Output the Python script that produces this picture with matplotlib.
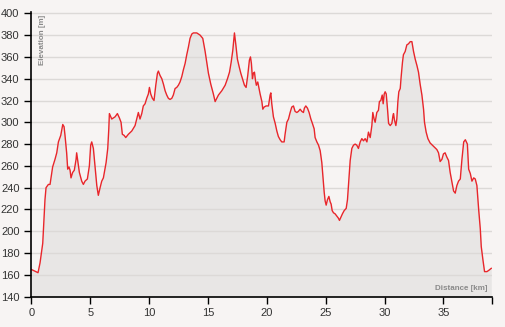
import numpy as np
import matplotlib.pyplot as plt

# elevation profile
dist = [0.0, 0.57, 0.74, 0.97, 1.16, 1.25, 1.45, 1.59, 1.67, 1.81, 2.01, 2.16, 2.30, 2.50, 2.67, 2.78, 2.86,
        3.00, 3.09, 3.20, 3.29, 3.37, 3.51, 3.65, 3.80, 3.85, 3.94, 4.08, 4.28, 4.42, 4.56, 4.76, 4.93,
        5.04, 5.13, 5.27, 5.41, 5.56, 5.69, 5.84, 5.98, 6.12, 6.35, 6.49, 6.58, 6.63, 6.83, 7.11, 7.31,
        7.48, 7.62, 7.73, 7.88, 8.02, 8.24, 8.53, 8.81, 8.95, 9.09, 9.23, 9.38, 9.51, 9.66, 9.80, 9.94,
        10.03, 10.14, 10.28, 10.42, 10.57, 10.71, 10.79, 10.93, 11.08, 11.22, 11.36, 11.50, 11.64, 11.78,
        11.93, 12.06, 12.21, 12.35, 12.49, 12.63, 12.78, 12.91, 13.06, 13.20, 13.34, 13.48, 13.63, 13.76,
        14.05, 14.33, 14.56, 14.76, 14.90, 15.04, 15.24, 15.46, 15.61, 15.75, 15.89, 16.18, 16.46, 16.66,
        16.83, 16.97, 17.11, 17.25, 17.37, 17.50, 17.65, 17.79, 17.96, 18.10, 18.24, 18.38, 18.52, 18.61,
        18.69, 18.78, 18.86, 18.95, 19.03, 19.11, 19.23, 19.32, 19.43, 19.58, 19.66, 19.77, 19.94, 20.14,
        20.28, 20.34, 20.42, 20.56, 20.71, 20.85, 20.98, 21.13, 21.27, 21.47, 21.55, 21.70, 21.84, 21.98,
        22.12, 22.26, 22.40, 22.55, 22.68, 22.83, 22.97, 23.11, 23.19, 23.31, 23.45, 23.59, 23.74, 23.87,
        24.02, 24.10, 24.25, 24.39, 24.53, 24.67, 24.76, 24.87, 24.95, 25.04, 25.15, 25.27, 25.38, 25.46,
        25.55, 25.66, 25.80, 25.94, 26.08, 26.17, 26.29, 26.42, 26.57, 26.74, 26.85, 26.97, 27.08, 27.22,
        27.36, 27.50, 27.64, 27.78, 27.93, 28.07, 28.21, 28.35, 28.50, 28.63, 28.78, 28.92, 29.00, 29.11,
        29.20, 29.34, 29.48, 29.56, 29.68, 29.80, 29.88, 29.97, 30.05, 30.14, 30.25, 30.34, 30.48, 30.62,
        30.71, 30.76, 30.84, 30.96, 31.04, 31.13, 31.21, 31.33, 31.41, 31.52, 31.60, 31.75, 31.89, 32.03,
        32.18, 32.32, 32.46, 32.60, 32.75, 32.88, 33.02, 33.17, 33.31, 33.39, 33.53, 33.68, 33.87, 34.16,
        34.44, 34.58, 34.72, 34.87, 35.00, 35.14, 35.29, 35.43, 35.57, 35.72, 35.86, 36.00, 36.14, 36.28,
        36.43, 36.57, 36.72, 36.86, 36.94, 37.03, 37.14, 37.28, 37.42, 37.57, 37.70, 37.84, 37.99, 38.13,
        38.21, 38.35, 38.49, 38.69, 38.83, 39.06]
elev = [165, 162, 171, 189, 229, 240, 243, 243, 249, 259, 266, 272, 282, 288, 298, 296, 288,
        272, 257, 259, 256, 249, 254, 256, 266, 272, 265, 254, 246, 243, 246, 248, 260,
        279, 282, 276, 260, 242, 233, 240, 246, 249, 263, 276, 294, 308, 303, 305, 308,
        304, 300, 289, 288, 286, 289, 292, 297, 303, 309, 303, 308, 315, 317, 322, 326,
        332, 326, 322, 320, 334, 345, 347, 343, 340, 335, 329, 325, 322, 321,
        322, 325, 331, 332, 334, 337, 342, 348, 354, 362, 369, 377, 381, 382,
        382, 380, 377, 365, 355, 345, 335, 326, 319, 322, 325, 329, 334, 340,
        346, 355, 366, 382, 371, 358, 351, 345, 339, 334, 332, 343, 357, 360,
        354, 340, 345, 346, 339, 334, 337, 332, 326, 319, 312, 314, 315, 315,
        325, 327, 317, 305, 299, 292, 287, 284, 282, 282, 289, 300, 303, 309,
        314, 315, 310, 309, 310, 312, 310, 309, 313, 315, 313, 309, 303, 299,
        294, 286, 282, 279, 274, 263, 251, 236, 228, 224, 229, 232, 227, 225,
        219, 217, 216, 214, 212, 210, 213, 216, 219, 221, 229, 248, 265, 276,
        279, 280, 279, 276, 282, 285, 283, 285, 282, 291, 286, 297, 309, 303,
        300, 309, 311, 319, 320, 325, 317, 326, 328, 326, 312, 299, 297, 299,
        306, 308, 302, 297, 303, 319, 328, 331, 342, 355, 362, 365, 371, 372,
        374, 374, 365, 358, 352, 346, 335, 325, 312, 300, 291, 285, 281, 278,
        275, 272, 264, 266, 271, 272, 268, 265, 254, 245, 237, 235, 242, 246,
        248, 266, 282, 284, 282, 280, 257, 253, 246, 249, 248, 242, 220, 202,
        186, 174, 163, 163, 164, 166]

x_ticks = [0, 5, 10, 15, 20, 25, 30, 35]
y_ticks = list(range(140, 401, 20))

plt.rcParams['font.family'] = ['Liberation Sans', 'DejaVu Sans']

bg = '#f7f4f3'
fig = plt.figure(figsize=(5.06, 3.27), dpi=100, facecolor=bg)
ax = fig.add_axes([0.0619, 0.0927, 0.9099, 0.8716])
ax.set_facecolor(bg)

ax.fill_between(dist, elev, 140, color='#e8e6e5', lw=0, zorder=1)
ax.plot(dist, elev, color='#e8262b', lw=1.0, zorder=3)

ax.set_xlim(0, 39.1)
ax.set_ylim(140, 401.5)
ax.set_xticks(x_ticks)
ax.set_yticks(y_ticks)
ax.grid(axis='y', color='#dcd9d7', lw=1.0, zorder=2)
ax.set_axisbelow(False)
ax.tick_params(direction='out', length=5, width=1, labelsize=8, colors='black', labelcolor='#333333')

for s in ['top', 'right']:
    ax.spines[s].set_visible(False)
for s in ['left', 'bottom']:
    ax.spines[s].set_color('black')
    ax.spines[s].set_linewidth(1.2)
    ax.spines[s].set_zorder(4)

# end tick on the x axis
ax.set_xticks([39.1], minor=True)
ax.tick_params(axis='x', which='minor', length=5, width=1, color='black')

ax.text(0.016, 0.99, 'Elevation [m]', transform=ax.transAxes, rotation=90,
        ha='left', va='top', fontsize=5.8, fontweight='bold', color='#8a8a8a')
ax.text(0.99, 0.018, 'Distance [km]', transform=ax.transAxes,
        ha='right', va='bottom', fontsize=5.8, fontweight='bold', color='#8a8a8a')

plt.savefig('out.png', dpi=100, facecolor=bg)
